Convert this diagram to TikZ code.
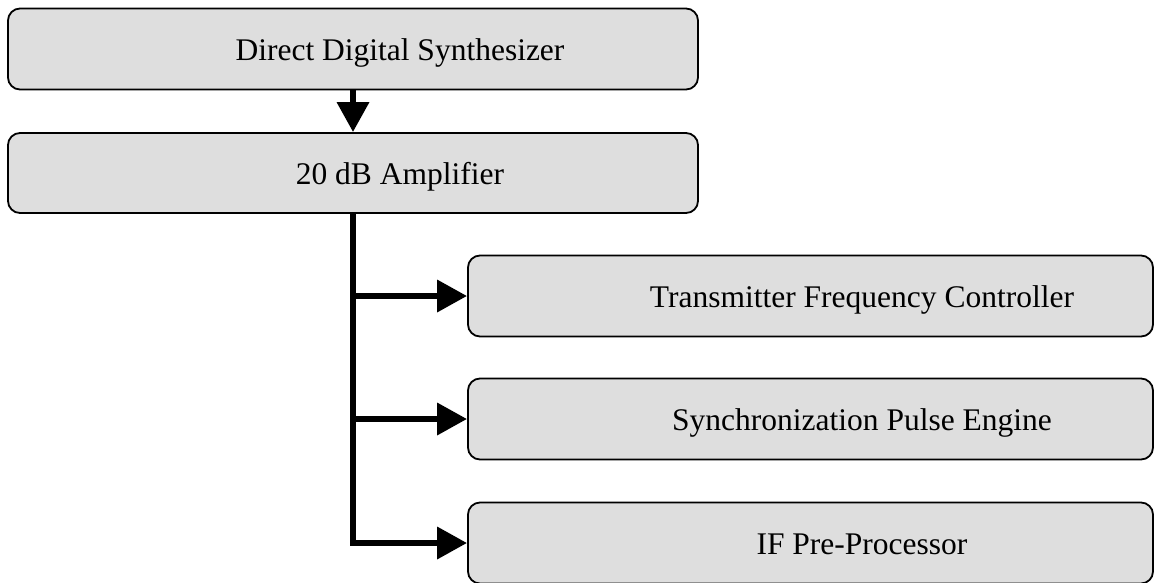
\documentclass[tikz,border=0pt]{standalone}
\usepackage{fontspec}
\setmainfont{Liberation Serif}
\usetikzlibrary{arrows.meta}
\definecolor{boxfill}{HTML}{DEDEDE}
\tikzset{
  blockbox/.style={draw=black, line width=1.8pt, fill=boxfill, rounded corners=12pt,
    minimum height=81pt, inner sep=0pt, text height=26pt, text depth=3pt,
    font=\fontsize{31.5}{36}\selectfont},
  leftbox/.style={blockbox, minimum width=690pt},
  rightbox/.style={blockbox, minimum width=685pt},
  conn/.style={line width=6.5pt, -{Triangle[length=30pt,width=31pt]}}
}
\begin{document}
\begin{tikzpicture}[x=1pt,y=-1pt]
\useasboundingbox (0,0) rectangle (1154,582);
\node[leftbox] (dds) at (353,49) {\hspace*{94pt}Direct Digital Synthesizer};
\node[leftbox, minimum height=80pt] (amp) at (353,173) {\hspace*{94pt}20 dB Amplifier};
\node[rightbox] (tfc) at (810.5,296) {\hspace*{103pt}Transmitter Frequency Controller};
\node[rightbox] (spe) at (810.5,419) {\hspace*{103pt}Synchronization Pulse Engine};
\node[rightbox] (ifp) at (810.5,543) {\hspace*{103pt}IF Pre-Processor};
\draw[conn] (dds) -- (amp);
\draw[conn] (amp.south) |- (ifp.west);
\draw[conn] (amp.south) |- (tfc.west);
\draw[conn] (amp.south) |- (spe.west);
\end{tikzpicture}
\end{document}
